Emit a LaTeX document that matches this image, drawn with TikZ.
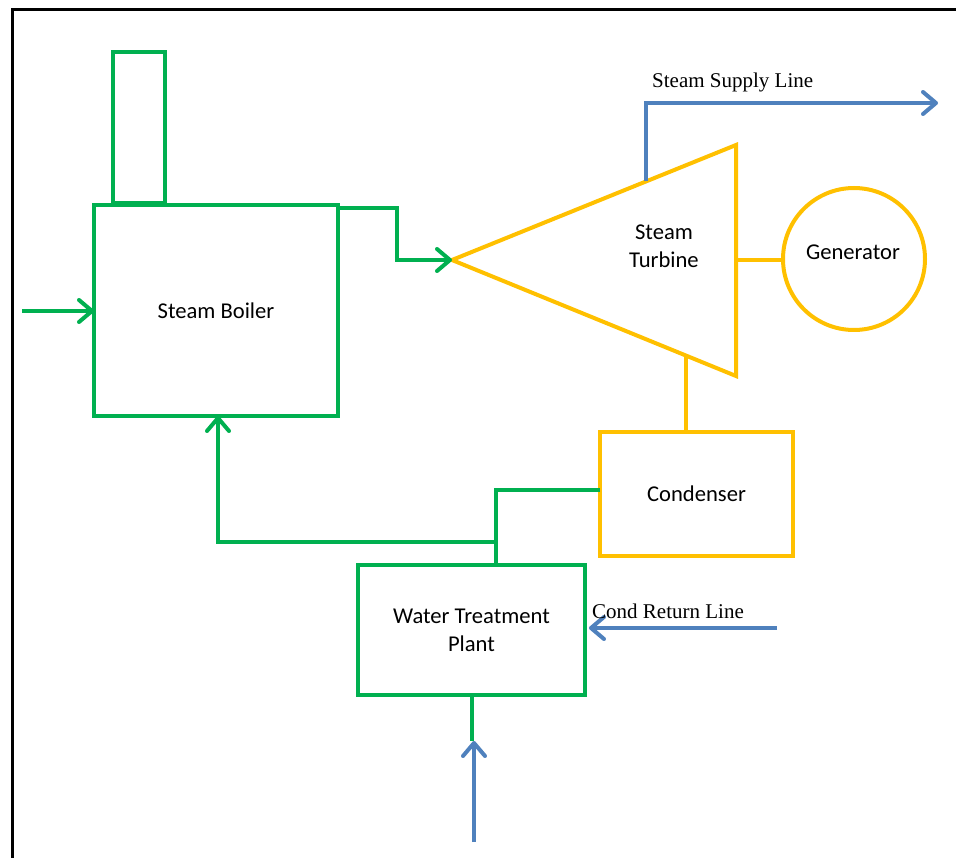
\documentclass[tikz,border=0pt]{standalone}
\usepackage{fontspec}
\setmainfont{Carlito}
\newfontfamily\lblfont{Liberation Serif}
\usetikzlibrary{arrows.meta,calc}
\definecolor{grn}{HTML}{00B050}
\definecolor{ylw}{HTML}{FFC000}
\definecolor{blu}{HTML}{4F81BD}
\tikzset{
  gline/.style={draw=grn, line width=4pt},
  yline/.style={draw=ylw, line width=4pt},
  bline/.style={draw=blu, line width=4pt},
  tipstyle/.style={-{Straight Barb[length=13pt, width=22pt, line cap=round, line join=round]}},
  garrow/.style={gline, tipstyle},
  barrow/.style={bline, tipstyle},
  txt/.style={font=\fontsize{22.6}{28}\selectfont, align=center},
  gbox/.style={gline, rectangle, inner sep=0pt, outer sep=0pt, txt},
  ybox/.style={yline, rectangle, inner sep=0pt, outer sep=0pt, txt},
  plain/.style={inner sep=0pt, txt},
  lbl/.style={inner sep=0pt, font=\lblfont\fontsize{21}{25}\selectfont},
}
\begin{document}
\begin{tikzpicture}[x=1pt, y=-1pt]
\useasboundingbox (0,0) rectangle (956,858);
% frame
\draw[line width=3pt] (960,10) -- (12,10) -- (12,862);

% boiler and chimney
\node[gbox, minimum width=244pt, minimum height=211pt] (boiler) at (216,310.5) {Steam Boiler};
\node[gbox, minimum width=52pt, minimum height=151pt] (chimney) at (139,127.5) {};

% turbine
\coordinate (ttip) at (452,260);
\coordinate (ttop) at (736,145);
\coordinate (tbot) at (736,376);
\draw[yline, line join=miter] (ttip) -- (ttop) -- (tbot) -- cycle;
\node[plain] (turbine) at (664,246) {Steam\\Turbine};

% generator
\node[draw=ylw, line width=4pt, circle, minimum size=142pt, inner sep=0pt] (gen) at (854,259) {};
\node[plain] (gentext) at (853,252) {Generator};
\coordinate (tright) at (ttip -| ttop);
\draw[yline] (tright) -- (tright -| gen.west);

% condenser
\node[ybox, minimum width=193pt, minimum height=124pt] (cond) at (696.5,494) {Condenser};
\coordinate (tb) at ($(ttip)!0.824!(tbot)$);
\draw[yline] (tb) -- (tb |- cond.north);

% water treatment plant
\node[gbox, minimum width=227pt, minimum height=130pt] (wtp) at (471.5,630) {Water Treatment\\Plant};

% feed into boiler
\coordinate (fin) at (22,311);
\draw[garrow] (fin) -- (fin -| boiler.west);

% boiler steam out to turbine
\draw[garrow, line join=miter] ([yshift=-3pt]boiler.north east) -- ++(59,0) |- (ttip);

% steam supply line
\coordinate (ts) at ($(ttip)!0.683!(ttop)$);
\coordinate (sup) at (938,103);
\draw[barrow, line join=miter] (ts) |- (sup);
\node[lbl, anchor=west] (suplbl) at (652,82) {Steam Supply Line};

% condenser to water treatment
\coordinate (jn) at (496,542);
\draw[gline, line join=miter] ([yshift=4pt]cond.west) -| ([xshift=24.5pt]wtp.north);

% return to boiler
\draw[garrow, line join=miter] (jn) -| ([xshift=2pt]boiler.south);

% condensate return
\coordinate (cr) at (777,628);
\draw[barrow] (cr) -- ([xshift=4pt]cr -| wtp.east);
\node[lbl, anchor=west] (crlbl) at (592,611) {Cond Return Line};

% make-up water in
\coordinate (win) at (474,842);
\coordinate (wm) at (474,741);
\draw[gline] (wtp.south) -- (wtp.south |- wm);
\draw[barrow] (win) -- (wm);
\end{tikzpicture}
\end{document}
